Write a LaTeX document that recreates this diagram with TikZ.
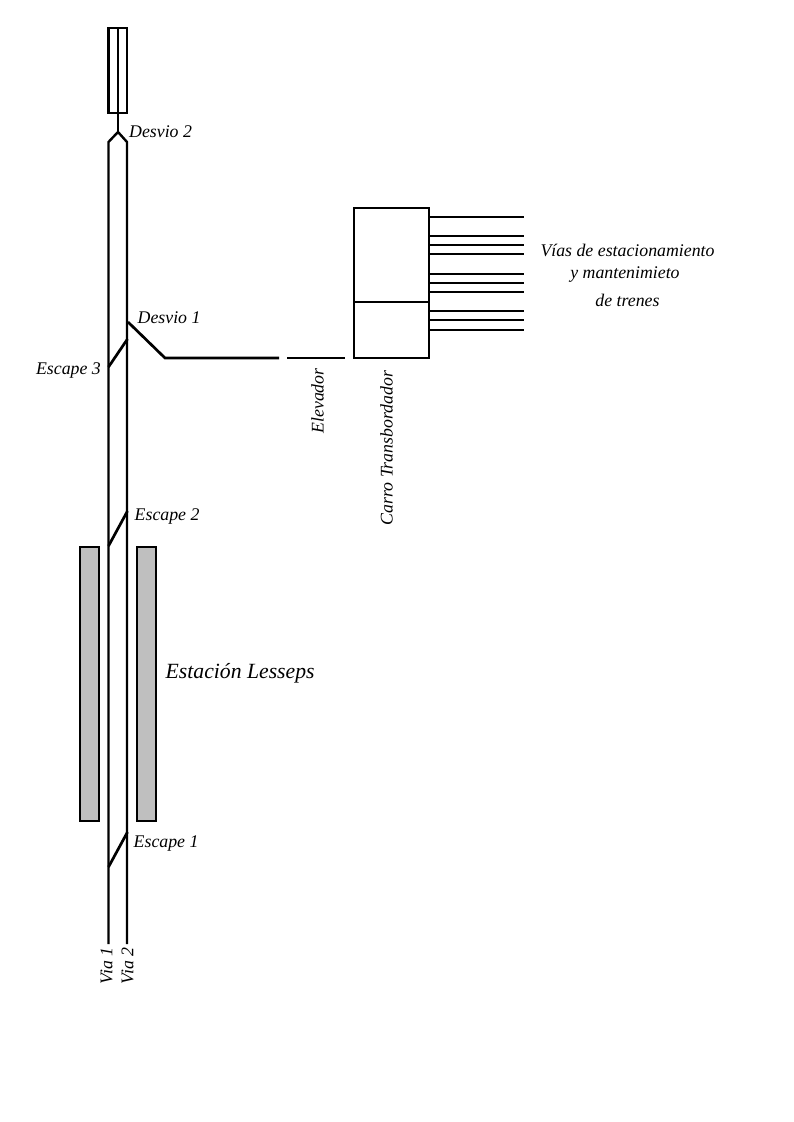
\documentclass[tikz,border=0pt]{standalone}
\usepackage{fontspec}
\setmainfont{Liberation Serif}
\tikzset{
  x=1pt,y=-1pt,
  track/.style={line width=2.4pt,line cap=butt,line join=miter},
  branch/.style={line width=2.7pt,line cap=butt,line join=miter},
  platform/.style={draw=black,line width=2.4pt,fill=black!25},
  lbl/.style={font=\itshape\fontsize{17.8}{20}\selectfont,inner sep=0pt,text=black},
  vlbl/.style={lbl,rotate=90},
}
\begin{document}
\begin{tikzpicture}
\useasboundingbox (0,0) rectangle (793,1122);
% station platforms
\draw[platform] (80,547) rectangle (99,821);
\draw[platform] (137,547) rectangle (156,821);
% main running lines
\draw[track] (108.5,944) -- (108.5,142) -- (118,132) -- (127,142) -- (127,944);
\draw[track] (118,132) -- (118,28);
\draw[track] (108.5,28) rectangle (127,113);
% crossovers
\draw[branch] (108.5,367) -- (127.5,339);
\draw[branch] (108.5,546) -- (127.5,511);
\draw[branch] (108.5,867) -- (127.5,832);
% branch towards the lift
\draw[branch] (128,322) -- (165,358) -- (279,358);
\draw[branch] (287,358) -- (345,358);
% transfer table
\draw[track] (354,208) rectangle (429,358);
\draw[track] (354,302) -- (429,302);
% stabling and maintenance roads
\foreach \ypos in {217,236,245,254,274,283,292,311,320,330}
  \draw[track] (429,\ypos) -- (524,\ypos);
% labels
\node[lbl,anchor=west] (d2) at (129,131.5) {Desvio 2};
\node[lbl,anchor=west] (d1) at (137.5,318) {Desvio 1};
\node[lbl,anchor=east] (e3) at (101,370) {Escape 3};
\node[lbl,anchor=west] (e2) at (134.5,516) {Escape 2};
\node[lbl,anchor=west] (e1) at (133.5,844) {Escape 1};
\node[lbl,anchor=west,font=\itshape\fontsize{21.7}{24}\selectfont] (st) at (165.5,673.5) {Estación Lesseps};
\node[vlbl] (el) at (317.5,401) {Elevador};
\node[vlbl] (ct) at (386.5,448) {Carro Transbordador};
\node[vlbl] (v1) at (106.5,966) {Via 1};
\node[vlbl] (v2) at (127.5,966) {Via 2};
\node[lbl] (p1) at (627.5,250.5) {Vías de estacionamiento};
\node[lbl] (p2) at (625,274.5) {y mantenimieto};
\node[lbl] (p3) at (627.5,300.5) {de trenes};
\end{tikzpicture}
\end{document}
